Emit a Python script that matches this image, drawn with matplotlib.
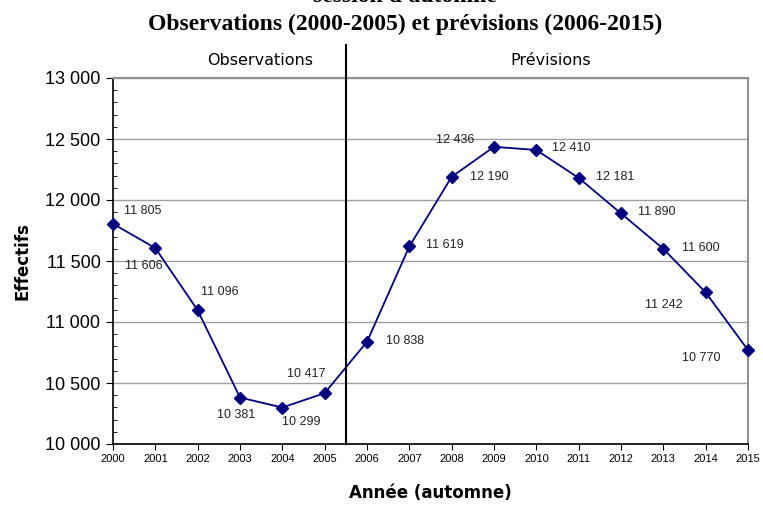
import matplotlib.pyplot as plt
from matplotlib.ticker import MultipleLocator, FuncFormatter

years = list(range(2000, 2016))
effectifs = [11805, 11606, 11096, 10381, 10299, 10417, 10838, 11619,
             12190, 12436, 12410, 12181, 11890, 11600, 11242, 10770]

# label centre offsets in pixels (dx right, dy down) from each marker
offsets_px = [(30, -13), (-12, 18), (22, -18), (-4, 17), (19, 14), (-18, -19),
              (38, -1), (35, -1), (38, 0), (-39, -7), (35, -2), (37, -1),
              (36, -1), (37, -1), (-42, 13), (-47, 8)]

plt.rcParams['font.family'] = ['Liberation Sans', 'DejaVu Sans']

fig = plt.figure(figsize=(7.63, 5.05), dpi=100)
ax = fig.add_axes([113/763, 1 - 444/505, 635/763, (444 - 78)/505])

navy = '#000080'
ax.plot(years, effectifs, color=navy, lw=1.3, marker='D', ms=6.5,
        markerfacecolor=navy, markeredgecolor=navy, clip_on=False, zorder=5)

for x, v, (dx, dy) in zip(years, effectifs, offsets_px):
    ax.annotate(f"{v:,}".replace(",", " "), (x, v), xytext=(dx * 0.72, -dy * 0.72),
                textcoords='offset points', ha='center', va='center',
                fontsize=9, color='#222222')

ax.set_xlim(2000, 2015)
ax.set_ylim(10000, 13000)
ax.set_xticks(years)
ax.yaxis.set_major_locator(MultipleLocator(500))
ax.yaxis.set_minor_locator(MultipleLocator(100))
ax.yaxis.set_major_formatter(FuncFormatter(lambda v, p: f"{int(v):,}".replace(",", " ")))
ax.tick_params(axis='y', which='major', direction='out', length=5, labelsize=13, pad=4)
ax.tick_params(axis='y', which='minor', direction='in', length=3)
ax.tick_params(axis='x', direction='out', length=4, labelsize=8)
ax.grid(axis='y', which='major', color='#a0a0a0', lw=1)
ax.set_axisbelow(True)

for s in ['top', 'right']:
    ax.spines[s].set_color('#909090')
    ax.spines[s].set_linewidth(1.5)
ax.spines['left'].set_linewidth(1.2)
ax.spines['bottom'].set_linewidth(1.2)

ax.set_ylabel('Effectifs', fontsize=12, fontweight='bold', labelpad=10,
              family=['DejaVu Sans'])
ax.set_xlabel('Année (automne)', fontsize=12, fontweight='bold', labelpad=14,
              family=['DejaVu Sans'])

# divider between observations and forecasts
ax.axvline(2005.5, ymin=0, ymax=1.09, color='black', lw=1.5, clip_on=False, zorder=6)
ax.text(2003.47, 13140, 'Observations', ha='center', va='center',
        fontsize=11.5, family=['DejaVu Sans'])
ax.text(2010.35, 13140, 'Prévisions', ha='center', va='center',
        fontsize=11.5, family=['DejaVu Sans'])

fig.text(405/763, 1 + 3/505, "session d'automne", ha='center', va='center',
         fontsize=17, fontweight='bold', family=['Liberation Serif', 'DejaVu Serif'])
fig.text(405/763, 1 - 24/505, 'Observations (2000-2005) et prévisions (2006-2015)',
         ha='center', va='center', fontsize=17, fontweight='bold',
         family=['Liberation Serif', 'DejaVu Serif'])

fig.savefig('out.png', dpi=100)
